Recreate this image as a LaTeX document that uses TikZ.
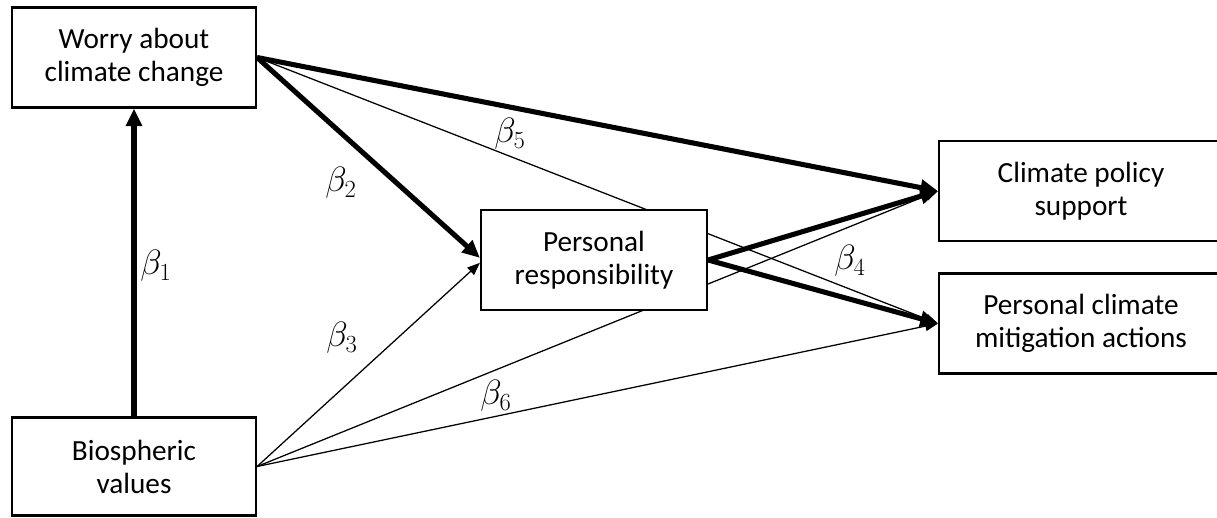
\RequirePackage{fix-cm}
\documentclass[tikz,border=0pt]{standalone}
\usepackage{fontspec}
\setmainfont{Carlito}
\usepackage{tikz}
\usetikzlibrary{arrows.meta,backgrounds}

\begin{document}
\begin{tikzpicture}[x=0.025cm, y=-0.025cm,
        varbox/.style={draw, line width=1.5pt, fill=white, align=center, inner sep=0pt, font=\fontsize{20.8}{23.5}\selectfont},
        coef/.style={inner sep=0pt, font=\fontsize{25}{28}\selectfont},
        strongpath/.style={line width=3.6pt, -{Triangle[length=12.5pt,width=11pt]}},
        weakpath/.style={line width=0.9pt, -{Triangle[length=9pt,width=7pt]}}]
            \useasboundingbox (0,0) rectangle (1217,518);
            \node[varbox, minimum width=6.1cm, minimum height=2.5cm] (worry) at (134,57.5) {Worry about\\climate change};
            \node[varbox, minimum width=6.1cm, minimum height=2.45cm] (bio) at (134,466.5) {Biospheric\\values};
            \node[varbox, minimum width=5.65cm, minimum height=2.5cm] (resp) at (594,260) {Personal\\responsibility};
            \node[varbox, minimum width=7.1cm, minimum height=2.5cm] (policy) at (1081,191) {Climate policy\\support};
            \node[varbox, minimum width=7.1cm, minimum height=2.5cm] (actions) at (1081,323.5) {Personal climate\\mitigation actions};
            % paths, kept under the boxes
            \begin{scope}[on background layer]
                \draw[strongpath] (bio) -- (worry);
                \draw[strongpath] (worry.east) -- ([yshift=1.5pt]resp.west);
                \draw[strongpath] (worry.east) -- (policy.west);
                \draw[weakpath] (worry.east) -- (actions.west);
                \draw[weakpath] (bio.east) -- ([yshift=-2pt]resp.west);
                \draw[weakpath] (bio.east) -- (policy.west);
                \draw[weakpath] (bio.east) -- (actions.west);
                \draw[strongpath] (resp.east) -- (policy.west);
                \draw[strongpath] (resp.east) -- (actions.west);
            \end{scope}
            \node[coef] (b1) at (156,266) {$\beta_1$};
            \node[coef] (b2) at (341,183) {$\beta_2$};
            \node[coef] (b3) at (342,338) {$\beta_3$};
            \node[coef] (b4) at (850,261) {$\beta_4$};
            \node[coef] (b5) at (510,134) {$\beta_5$};
            \node[coef] (b6) at (496,396) {$\beta_6$};
        \end{tikzpicture}
\end{document}
